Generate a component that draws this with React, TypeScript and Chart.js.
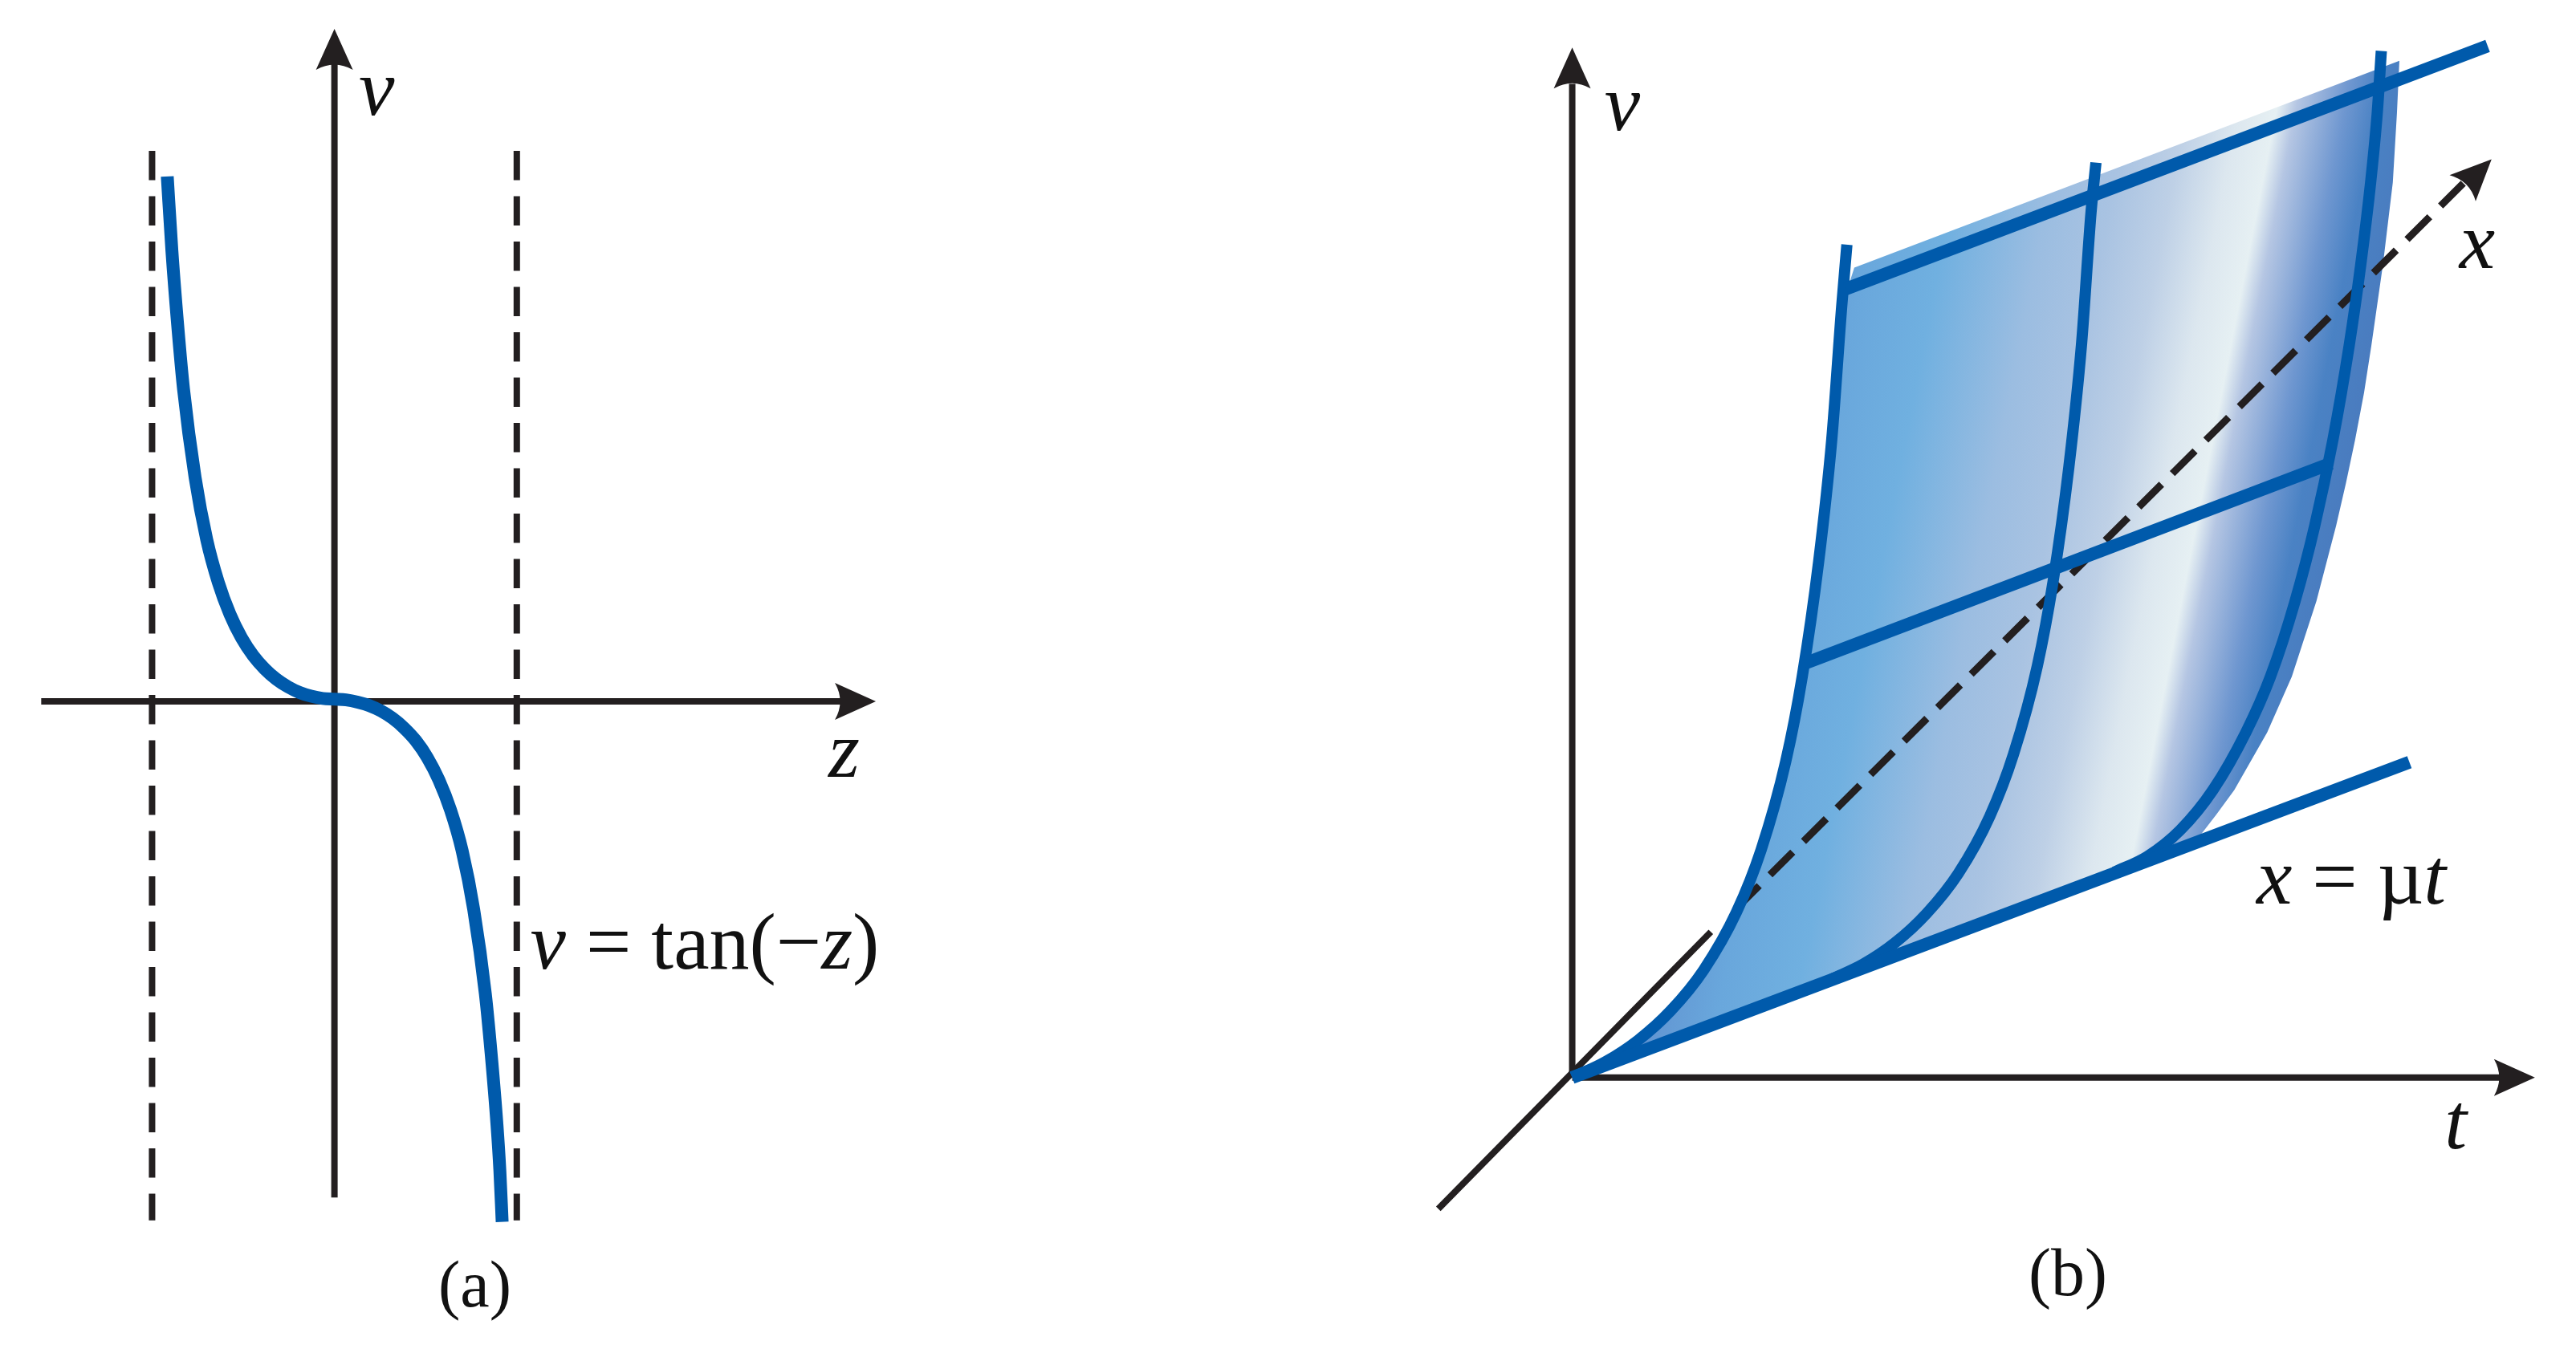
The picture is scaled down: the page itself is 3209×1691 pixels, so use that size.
import React, { useEffect, useRef } from "react";
import { Chart, registerables } from "chart.js";

Chart.register(...registerables);

// ---- Panel (a): v = tan(-z) ----
const curveZ = [-1.44, -1.4, -1.35, -1.3, -1.2, -1.1, -1.0, -0.9, -0.8, -0.7, -0.6, -0.5, -0.4, -0.3, -0.2, -0.1, 0, 0.1, 0.2, 0.3, 0.4, 0.5, 0.6, 0.7, 0.8, 0.9, 1.0, 1.1, 1.2, 1.3, 1.35, 1.4, 1.425, 1.445];
const curveV = [7.11, 6.1, 5.09, 4.23, 3.03, 2.19, 1.61, 1.18, 0.86, 0.62, 0.44, 0.3, 0.197, 0.12, 0.07, 0.04, 0.03, 0.02, -0.01, -0.056, -0.128, -0.227, -0.36, -0.53, -0.76, -1.065, -1.47, -2.02, -2.82, -3.96, -4.77, -5.73, -6.35, -7.05];
const asymptoteZ = [-1.571, 1.571];
const asymptoteV = [7.457, -7.03];
const axisVA = [-6.72, 8.63];
const axisZ = [-2.526, 4.38];

// ---- Panel (b): surface over (t, x) ----
const leftT = [0, 0.2, 0.4, 0.6, 0.8, 1.0, 1.15, 1.3, 1.4, 1.5, 1.58, 1.64, 1.672];
const leftV = [0, 0.094, 0.226, 0.407, 0.654, 1.007, 1.386, 1.925, 2.44, 3.14, 3.886, 4.69, 5.07];
const midT = [1.58, 1.772, 1.965, 2.157, 2.35, 2.542, 2.686, 2.831, 2.927, 3.023, 3.1, 3.158, 3.188];
const midV = [0.599, 0.69, 0.82, 0.998, 1.242, 1.591, 1.968, 2.505, 3.019, 3.716, 4.462, 5.267, 5.57];
const rightT = [3.3, 3.5, 3.7, 3.9, 4.1, 4.25, 4.4, 4.52, 4.63, 4.73, 4.8, 4.86, 4.9, 4.925];
const rightV = [1.25, 1.345, 1.505, 1.75, 2.1, 2.44, 2.9, 3.36, 3.88, 4.46, 4.95, 5.45, 5.87, 6.25];
const edgeT = [1.717, 5.035, 5.02, 4.995, 4.935, 4.865, 4.82, 4.765, 4.71, 4.65, 4.53, 4.38, 4.23, 4.03, 3.92, 3.82];
const edgeV = [4.93, 6.19, 5.87, 5.45, 4.95, 4.46, 4.17, 3.88, 3.62, 3.36, 2.9, 2.44, 2.1, 1.75, 1.6, 1.47];
const baseT = [0, 5.096];
const baseV = [0, 1.92];
const topT = [1.663, 5.572];
const topV = [4.8, 6.28];
const crossT = [1.414, 4.62];
const crossV = [2.52, 3.74];
const axisVBT = [0, 0];
const axisVBV = [0, 6.05];
const axisTT = [0, 5.65];
const axisTV = [0, 0];
const axisXT = [-0.815, 0.844];
const axisXV = [-0.8, 0.886];
const dashXT = [1.0, 5.43];
const dashXV = [1.03, 5.45];

const BLUE = "#005aab";
const INK = "#231f20";

const zip = (xs: number[], ys: number[]) => xs.map((x, i) => ({ x, y: ys[i] }));

const line = (label: string, data: any[], color: string, width: number, extra: any = {}) => ({
  label,
  data,
  showLine: true,
  borderColor: color,
  borderWidth: width,
  pointRadius: 0,
  pointHoverRadius: 0,
  tension: 0,
  borderCapStyle: "butt",
  borderJoinStyle: "miter",
  fill: false,
  clip: false,
  ...extra,
});

const smooth = { cubicInterpolationMode: "monotone" };

const surfaceStops: [number, string][] = [
  [0, "#5f8fcf"],
  [0.14, "#69a7dc"],
  [0.26, "#70b0e0"],
  [0.41, "#9bbde1"],
  [0.51, "#a9c3e2"],
  [0.6, "#bed0e6"],
  [0.68, "#dce7ef"],
  [0.74, "#e6f0f3"],
  [0.77, "#b5c6e3"],
  [0.846, "#6f97d0"],
  [0.896, "#4a82c4"],
  [1, "#4a78bc"],
];

const surfaceFill = (c: any) => {
  const { ctx, scales } = c.chart;
  if (!scales.x || !c.chart.chartArea) return "#6aa7dc";
  const g = ctx.createLinearGradient(
    scales.x.getPixelForValue(0.95),
    scales.y.getPixelForValue(3.56),
    scales.x.getPixelForValue(4.71),
    scales.y.getPixelForValue(2.834)
  );
  surfaceStops.forEach(([o, col]) => g.addColorStop(o, col));
  return g;
};

type Run = { t: string; i?: boolean };
type Label = { x: number; y: number; size: number; runs: Run[] };

const annotate = {
  id: "annotate",
  afterDatasetsDraw(chart: any, _a: any, opts: any) {
    const { ctx, scales } = chart;
    const px = (v: number) => scales.x.getPixelForValue(v);
    const py = (v: number) => scales.y.getPixelForValue(v);
    ctx.save();
    (opts.arrows || []).forEach((a: any) => {
      const tx = px(a.tip[0]);
      const ty = py(a.tip[1]);
      const fx = px(a.from[0]);
      const fy = py(a.from[1]);
      const len = Math.hypot(tx - fx, ty - fy);
      const ux = (tx - fx) / len;
      const uy = (ty - fy) / len;
      const nx = -uy;
      const ny = ux;
      const L = 51;
      const W = 23;
      ctx.fillStyle = INK;
      ctx.beginPath();
      ctx.moveTo(tx, ty);
      ctx.lineTo(tx - ux * L + nx * W, ty - uy * L + ny * W);
      ctx.quadraticCurveTo(tx - ux * (L - 13), ty - uy * (L - 13), tx - ux * L - nx * W, ty - uy * L - ny * W);
      ctx.closePath();
      ctx.fill();
    });
    ctx.textBaseline = "alphabetic";
    ctx.textAlign = "left";
    ctx.fillStyle = "#111111";
    (opts.labels || []).forEach((l: Label) => {
      let x = px(l.x);
      const y = py(l.y);
      l.runs.forEach((r) => {
        ctx.font = `${r.i ? "italic " : ""}${l.size}px "Liberation Serif"`;
        ctx.fillText(r.t, x, y);
        x += ctx.measureText(r.t).width;
      });
    });
    ctx.restore();
  },
};

const baseOptions = (xr: number[], yr: number[], annot: any): any => ({
  responsive: false,
  animation: false,
  layout: { padding: 0 },
  events: [],
  scales: {
    x: { type: "linear", min: xr[0], max: xr[1], display: false },
    y: { type: "linear", min: yr[0], max: yr[1], display: false },
  },
  plugins: { legend: { display: false }, tooltip: { enabled: false }, annotate: annot },
});

export default function App() {
  const a = useRef<HTMLCanvasElement>(null);
  const b = useRef<HTMLCanvasElement>(null);

  useEffect(() => {
    const chartA = new Chart(a.current as any, {
      type: "scatter",
      plugins: [annotate],
      data: {
        datasets: [
          line("v = tan(-z)", zip(curveZ, curveV), BLUE, 16, smooth),
          line("v axis", zip([0, 0], axisVA), INK, 8),
          line("z axis", zip(axisZ, [0, 0]), INK, 8),
          line("z = -pi/2", zip([asymptoteZ[0], asymptoteZ[0]], asymptoteV), INK, 8, { borderDash: [36.5, 20] }),
          line("z = pi/2", zip([asymptoteZ[1], asymptoteZ[1]], asymptoteV), INK, 8, { borderDash: [36.5, 20] }),
        ],
      },
      options: baseOptions([-2.881, 7.492], [-8.88, 9.5], {
        arrows: [
          { from: [0, 0], tip: [0, 9.11] },
          { from: [0, 0], tip: [4.664, 0] },
        ],
        labels: [
          { x: 0.21, y: 7.95, size: 100, runs: [{ t: "v", i: true }] },
          { x: 4.256, y: -1.02, size: 100, runs: [{ t: "z", i: true }] },
          {
            x: 1.687,
            y: -3.62,
            size: 100,
            runs: [{ t: "v", i: true }, { t: " = tan(−" }, { t: "z", i: true }, { t: ")" }],
          },
          { x: 0.895, y: -8.2, size: 82, runs: [{ t: "(a)" }] },
        ],
      }),
    });

    const chartB = new Chart(b.current as any, {
      type: "scatter",
      plugins: [annotate],
      data: {
        datasets: [
          line("x = mu t", zip(baseT, baseV), BLUE, 16),
          line("top", zip(topT, topV), BLUE, 16),
          line("cross", zip(crossT, crossV), BLUE, 16),
          line("left", zip(leftT, leftV), BLUE, 14, smooth),
          line("mid", zip(midT, midV), BLUE, 14, smooth),
          line("right", zip(rightT, rightV), BLUE, 14, smooth),
          line("x dashed", zip(dashXT, dashXV), INK, 9, { borderDash: [40, 19] }),
          line(
            "surface",
            [...zip(leftT.slice(0, -1), leftV.slice(0, -1)), ...zip(edgeT, edgeV)],
            "rgba(0,0,0,0)",
            0,
            { fill: "shape", backgroundColor: surfaceFill }
          ),
          line("x axis", zip(axisXT, axisXV), INK, 8),
          line("v axis", zip(axisVBT, axisVBV), INK, 8),
          line("t axis", zip(axisTT, axisTV), INK, 8),
        ],
      },
      options: baseOptions([-1.752, 6.11], [-1.702, 6.56], {
        arrows: [
          { from: [0, 0], tip: [0, 6.27] },
          { from: [0, 0], tip: [5.86, 0] },
          { from: [0, 0], tip: [5.596, 5.59] },
        ],
        labels: [
          { x: 0.197, y: 5.77, size: 100, runs: [{ t: "v", i: true }] },
          { x: 5.4, y: 4.93, size: 100, runs: [{ t: "x", i: true }] },
          { x: 4.165, y: 1.057, size: 100, runs: [{ t: "x", i: true }, { t: " = µ" }, { t: "t", i: true }] },
          { x: 5.31, y: -0.43, size: 100, runs: [{ t: "t", i: true }] },
          { x: 2.778, y: -1.325, size: 84, runs: [{ t: "(b)" }] },
        ],
      }),
    });

    return () => {
      chartA.destroy();
      chartB.destroy();
    };
  }, []);

  return (
    <div style={{ position: "absolute", left: 0, top: 0, width: 3209, height: 1691, background: "#fff", overflow: "hidden" }}>
      <canvas ref={a} width={1500} height={1691} style={{ position: "absolute", left: 0, top: 0 }} />
      <canvas ref={b} width={1609} height={1691} style={{ position: "absolute", left: 1600, top: 0 }} />
    </div>
  );
}
